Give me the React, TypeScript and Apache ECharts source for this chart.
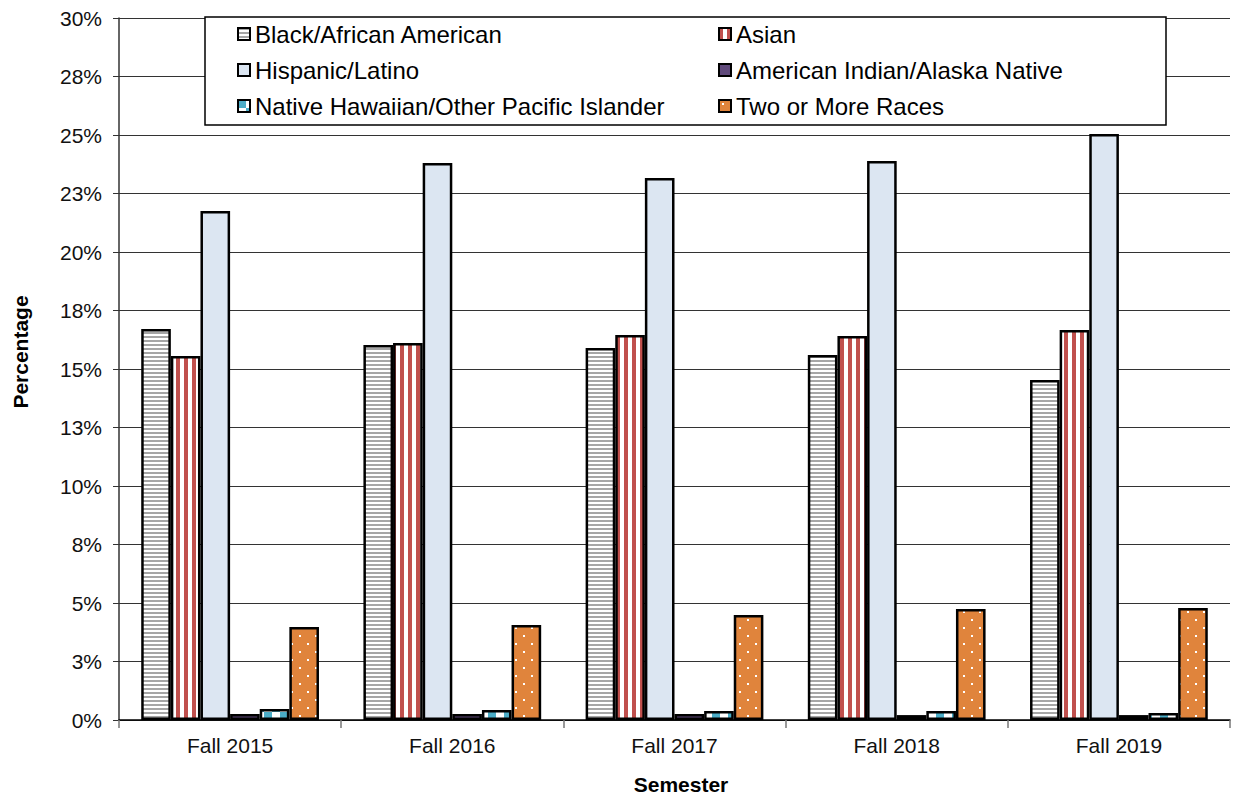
import React, { useEffect, useRef } from "react";
import * as echarts from "echarts";

const categories = ["Fall 2015", "Fall 2016", "Fall 2017", "Fall 2018", "Fall 2019"];
const seriesNames = [
  "Black/African American",
  "Asian",
  "Hispanic/Latino",
  "American Indian/Alaska Native",
  "Native Hawaiian/Other Pacific Islander",
  "Two or More Races",
];
const blackValues = [16.71, 16.03, 15.9, 15.6, 14.53];
const asianValues = [15.56, 16.11, 16.45, 16.41, 16.67];
const hispanicValues = [21.75, 23.8, 23.16, 23.89, 25.04];
const amIndValues = [0.26, 0.26, 0.26, 0.21, 0.21];
const nhpiValues = [0.47, 0.43, 0.38, 0.38, 0.3];
const twoMoreValues = [3.97, 4.06, 4.49, 4.74, 4.79];
const yTicks = { min: 0, max: 30, interval: 2.5 };

function makePattern(w: number, h: number, draw: (ctx: CanvasRenderingContext2D) => void) {
  const c = document.createElement("canvas");
  c.width = w;
  c.height = h;
  const ctx = c.getContext("2d")!;
  draw(ctx);
  return { image: c, repeat: "repeat", imageWidth: w, imageHeight: h } as any;
}

export default function App() {
  const ref = useRef<HTMLDivElement>(null);
  useEffect(() => {
    document.body.style.margin = "0";
    const chart = echarts.init(ref.current!, null, { renderer: "svg" });

    const hStripe = makePattern(4, 4, (ctx) => {
      ctx.fillStyle = "#ffffff";
      ctx.fillRect(0, 0, 4, 4);
      ctx.fillStyle = "#a6a6a6";
      ctx.fillRect(0, 0, 4, 2);
    });
    const vStripe = makePattern(8, 8, (ctx) => {
      ctx.fillStyle = "#ffffff";
      ctx.fillRect(0, 0, 8, 8);
      ctx.fillStyle = "#c0504d";
      ctx.fillRect(0, 0, 4, 8);
    });
    const checker = makePattern(16, 16, (ctx) => {
      ctx.fillStyle = "#ffffff";
      ctx.fillRect(0, 0, 16, 16);
      ctx.fillStyle = "#4bacc6";
      ctx.fillRect(0, 0, 8, 8);
      ctx.fillRect(8, 8, 8, 8);
    });
    const dots = makePattern(16, 16, (ctx) => {
      ctx.fillStyle = "#e0843c";
      ctx.fillRect(0, 0, 16, 16);
      ctx.fillStyle = "#ffffff";
      ctx.fillRect(3, 3, 2, 2);
      ctx.fillRect(11, 11, 2, 2);
    });

    const colors: any[] = [hStripe, vStripe, "#dce6f2", "#604a7b", checker, dots];
    const values = [blackValues, asianValues, hispanicValues, amIndValues, nhpiValues, twoMoreValues];

    const series = seriesNames.map((name, i) => ({
      name,
      type: "bar",
      data: values[i],
      barGap: "0%",
      barCategoryGap: "20%",
      itemStyle: { color: colors[i], borderColor: "#000", borderWidth: 2.5 },
    }));

    const legendCommon = {
      orient: "vertical",
      padding: 0,
      itemWidth: 12,
      itemHeight: 12,
      itemGap: 12,
      icon: "rect",
      textStyle: { fontFamily: "Liberation Sans", fontSize: 24, color: "#000", lineHeight: 24 },
      selectedMode: false,
    };

    chart.setOption({
      animation: false,
      backgroundColor: "#fff",
      textStyle: { fontFamily: "Liberation Sans" },
      grid: { left: 119, right: 8, top: 18, bottom: 76 },
      legend: [
        { ...legendCommon, left: 237, top: 22, data: [seriesNames[0], seriesNames[2], seriesNames[4]] },
        { ...legendCommon, left: 718, top: 22, data: [seriesNames[1], seriesNames[3], seriesNames[5]] },
      ],
      graphic: [
        {
          type: "rect",
          z: 3,
          shape: { x: 205, y: 17, width: 961, height: 108 },
          style: { fill: "#fff", stroke: "#000", lineWidth: 1.5 },
        },
        {
          type: "text",
          x: 20,
          y: 352,
          rotation: Math.PI / 2,
          style: {
            text: "Percentage",
            font: "bold 21px 'Liberation Sans'",
            fill: "#000",
            align: "center",
            verticalAlign: "middle",
          },
        },
        {
          type: "text",
          x: 681,
          y: 784,
          style: {
            text: "Semester",
            font: "bold 21px 'Liberation Sans'",
            fill: "#000",
            align: "center",
            verticalAlign: "middle",
          },
        },
      ],
      xAxis: {
        type: "category",
        data: categories,
        axisLine: { lineStyle: { color: "#000", width: 1.5 } },
        axisTick: { show: true, length: 8, lineStyle: { color: "#777", width: 1.5 } },
        axisLabel: { fontSize: 21, color: "#111", margin: 15, fontFamily: "Liberation Sans" },
      },
      yAxis: {
        type: "value",
        min: yTicks.min,
        max: yTicks.max,
        interval: yTicks.interval,
        axisLine: { show: true, lineStyle: { color: "#333", width: 1.5 } },
        axisTick: { show: true, length: 6, lineStyle: { color: "#333" } },
        axisLabel: {
          fontSize: 21,
          color: "#111",
          margin: 17,
          fontFamily: "Liberation Sans",
          formatter: (v: number) => Math.round(v) + "%",
        },
        splitLine: { show: true, lineStyle: { color: "#333", width: 1 } },
      },
      series,
    } as any);
    return () => chart.dispose();
  }, []);
  return <div ref={ref} style={{ width: 1238, height: 796 }} />;
}
